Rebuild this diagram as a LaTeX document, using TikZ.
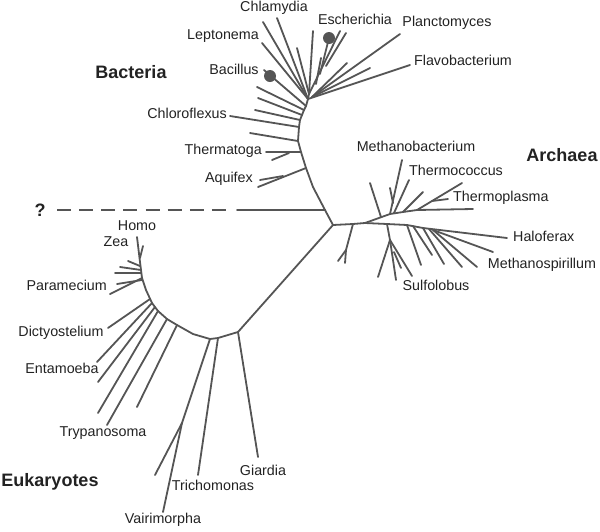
\documentclass[tikz,border=0pt]{standalone}
\usepackage{fontspec}
\setmainfont{Liberation Sans}
\definecolor{ln}{HTML}{555555}
\definecolor{tx}{HTML}{222222}
\tikzset{
 br/.style={draw=ln,line width=1.8pt,line cap=round,line join=round},
 lab/.style={font=\fontsize{14.3}{16}\selectfont,text=tx,inner sep=0pt,text height=10pt,text depth=3pt},
 grp/.style={font=\fontsize{18}{20}\selectfont\bfseries,text=tx,inner sep=0pt,text height=13pt,text depth=0pt},
 blob/.style={circle,fill=ln,minimum size=12pt,inner sep=0pt},
}
\begin{document}
\begin{tikzpicture}[x=1pt,y=-1pt]
\useasboundingbox (0,0) rectangle (600,531);
% ---------- root ----------
\coordinate (hub) at (333,225);
\coordinate (bq) at (325,210);
\coordinate (qs) at (237,210);
\coordinate (qd) at (226,210);
\coordinate (qe) at (57,210);
\node[grp] (q) at (40,210) {?};
\draw[br,line cap=butt,dash pattern=on 14pt off 8.14pt] (qe) -- (qd);
\draw[br] (qs) -- (bq) -- (hub);
% ---------- Bacteria ----------
\coordinate (t1) at (313,187);
\coordinate (t2) at (306,168);
\coordinate (t3) at (301,152);
\coordinate (t4) at (298,141);
\coordinate (t5) at (299,127);
\coordinate (t6) at (300,120);
\coordinate (t7) at (302,115);
\coordinate (t8) at (304,110);
\coordinate (t9) at (306,106);
\coordinate (cb) at (308,99);
\coordinate (cu) at (309,94);
\draw[br] (bq) -- (t1) -- (t2) -- (t3) -- (t4) -- (t5) -- (t6) -- (t7) -- (t8) -- (t9) -- (cb) -- (cu);
% Aquifex
\coordinate (aqf) at (283,176);
\coordinate (aq1) at (258,187);
\coordinate (aq2) at (260,180);
\draw[br] (t2) -- (aq1);
\draw[br] (aqf) -- (aq2);
% Thermatoga
\coordinate (th1) at (266,152);
\coordinate (thf) at (289,153);
\coordinate (th2) at (272,160);
\draw[br] (t3) -- (th1);
\draw[br] (thf) -- (th2);
\coordinate (b1) at (250,133);
\coordinate (cf) at (230,116);
\coordinate (b2) at (255,110);
\coordinate (b3) at (258,98);
\coordinate (b4) at (257,87);
\coordinate (bc) at (264,70);
\coordinate (lp) at (262,43);
\coordinate (ch1) at (263,22);
\coordinate (ch2) at (277,18);
\draw[br] (t4) -- (b1);
\draw[br] (t5) -- (cf);
\draw[br] (t6) -- (b2);
\draw[br] (t7) -- (b3);
\draw[br] (t8) -- (b4);
\draw[br] (t9) -- (bc);
\node[blob] (bdot) at (270,76) {};
\draw[br] (cb) -- (lp);
\draw[br] (cb) -- (ch1);
\draw[br] (cb) -- (ch2);
% upper right fan
\coordinate (u01) at (297,48);
\coordinate (u02) at (313,31);
\coordinate (es) at (340,31);
\coordinate (esb) at (326,66);
\coordinate (es4) at (346,33);
\coordinate (esf) at (320,74);
\coordinate (es2) at (328,42);
\coordinate (es3a) at (316,84);
\coordinate (es3b) at (321,58);
\coordinate (r1) at (347,63);
\coordinate (pl) at (400,34);
\coordinate (r2) at (370,68);
\coordinate (fl) at (410,65);
\coordinate (cr) at (312,97);
\draw[br] (cu) -- (u01);
\draw[br] (cu) -- (u02);
\draw[br] (cu) -- (es);
\draw[br] (esb) -- (es4);
\draw[br] (esf) -- (es2);
\node[blob] (edot) at (329,38) {};
\draw[br] (es3a) -- (es3b);
\draw[br] (cr) -- (r1);
\draw[br] (cr) -- (pl);
\draw[br] (cr) -- (r2);
\draw[br] (cb) -- (fl);
% Bacteria labels
\node[lab] (Lchl) at (274,8) {Chlamydia};
\node[lab] (Lesc) at (355,21) {Escherichia};
\node[lab] (Lpla) at (447,23) {Planctomyces};
\node[lab] (Llep) at (223,36) {Leptonema};
\node[lab] (Lfla) at (463,62) {Flavobacterium};
\node[lab] (Lbac) at (234,71) {Bacillus};
\node[grp] (GB) at (131,72) {Bacteria};
\node[lab,anchor=east] (Lcfx) at (227,115) {Chloroflexus};
\node[lab,anchor=east] (Ltha) at (262,151) {Thermatoga};
\node[lab,anchor=east] (Laqu) at (253,179) {Aquifex};
% ---------- Archaea ----------
\coordinate (s1) at (353,224);
\coordinate (s2) at (365,223);
\coordinate (d1) at (346,250);
\draw[br] (hub) -- (s1) -- (s2);
\draw[br] (s1) -- (d1) -- (345,263);
\draw[br] (d1) -- (338,261);
\coordinate (u1) at (390,214);
\coordinate (u2) at (403,212);
\coordinate (u3) at (417,210);
\coordinate (u4) at (473,209);
\draw[br] (s2) -- (u1) -- (u2) -- (u3) -- (u4);
\draw[br] (381,217) -- (370,183);
\draw[br] (u1) -- (402,160);
\draw[br] (393,203) -- (390,188);
\draw[br] (394,213) -- (409,180);
\draw[br] (u2) -- (423,192);
\draw[br] (u3) -- (462,183);
\draw[br] (432,201) -- (448,199);
\coordinate (l1) at (387,224);
\coordinate (l2) at (407,225);
\coordinate (l3) at (423,228);
\coordinate (hx) at (507,238);
\draw[br] (s2) -- (l1) -- (l2) -- (l3) -- (hx);
\draw[br] (l2) -- (421,265);
\draw[br] (413,226) -- (432,255);
\draw[br] (l3) -- (444,264);
\draw[br] (429,229) -- (462,267);
\draw[br] (433,230) -- (477,267);
\draw[br] (433,230) -- (493,252);
\coordinate (sA) at (390,240);
\draw[br] (l1) -- (sA);
\draw[br] (sA) -- (378,277);
\draw[br] (sA) -- (396,280);
\draw[br] (sA) -- (412,276);
\draw[br] (394,252) -- (401,268);
% Archaea labels
\node[lab] (Lmeb) at (416,148) {Methanobacterium};
\node[grp] (GA) at (562,155) {Archaea};
\node[lab] (Ltco) at (456,172) {Thermococcus};
\node[lab,anchor=west] (Ltpl) at (453,198) {Thermoplasma};
\node[lab,anchor=west] (Lhal) at (513,238) {Haloferax};
\node[lab] (Lmsp) at (542,265) {Methanospirillum};
\node[lab] (Lsul) at (436,287) {Sulfolobus};
% ---------- Eukaryotes ----------
\coordinate (e0) at (238,332);
\coordinate (e1) at (218,338);
\coordinate (e2) at (210,339);
\coordinate (e2b) at (193,334);
\coordinate (e3) at (177,325);
\coordinate (e4) at (167,319);
\coordinate (e5) at (158,311);
\coordinate (e5b) at (155,307);
\coordinate (e6) at (152,303);
\coordinate (e6b) at (150,299);
\coordinate (e7) at (146,290);
\coordinate (e8) at (142,278);
\coordinate (e9) at (140,262);
\coordinate (ho) at (137,237);
\draw[br] (hub) -- (e0);
\draw[br] (e0) -- (e1) -- (e2) -- (e2b) -- (e3) -- (e4) -- (e5) -- (e6) -- (e7) -- (e8) -- (e9) -- (ho);
\draw[br] (e0) -- (258,457);
\draw[br] (e1) -- (198,475);
\coordinate (ev) at (182,423);
\draw[br] (e2) -- (ev) -- (163,512);
\draw[br] (ev) -- (155,475);
\draw[br] (e3) -- (137,407);
\draw[br] (e4) -- (107,425);
\draw[br] (e5) -- (98,413);
\draw[br] (e5b) -- (98,382);
\draw[br] (e6) -- (97,362);
\draw[br] (e6b) -- (108,328);
\draw[br] (e8) -- (110,294);
\draw[br] (142,280) -- (117,284);
\draw[br] (141,273) -- (115,273);
\draw[br] (141,270) -- (120,267);
\draw[br] (140,266) -- (128,261);
\draw[br] (140,258) -- (143,246);
% Eukaryote labels
\node[lab] (Lhom) at (137,227) {Homo};
\node[lab] (Lzea) at (116,243) {Zea};
\node[lab,anchor=east] (Lpar) at (107,287) {Paramecium};
\node[lab] (Ldic) at (61,333) {Dictyostelium};
\node[lab] (Lent) at (62,370) {Entamoeba};
\node[lab] (Ltry) at (103,433) {Trypanosoma};
\node[lab] (Lgia) at (263,472) {Giardia};
\node[lab] (Ltri) at (213,487) {Trichomonas};
\node[grp] (GE) at (50,480) {Eukaryotes};
\node[lab] (Lvai) at (163,520) {Vairimorpha};
\end{tikzpicture}
\end{document}
